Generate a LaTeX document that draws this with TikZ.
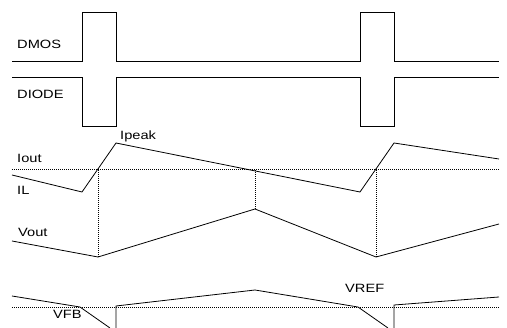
\documentclass[tikz,border=0pt]{standalone}
\usepackage{fontspec}
\setmainfont[FakeStretch=1.22]{Liberation Sans}

\begin{document}
\begin{tikzpicture}[
  x=1pt, y=-1pt,
  wave/.style={line width=0.8pt},
  guide/.style={line width=0.6pt, dash pattern=on 1pt off 1pt},
  lbl/.style={anchor=base west, inner sep=0pt, font=\fontsize{12}{14}\selectfont},
]
\useasboundingbox (0,0) rectangle (507,328);
\clip (0,0) rectangle (507,328);

% switch signals
\draw[wave] (12,61) -- (82,61) -- (82,12) -- (116,12) -- (116,61)
  -- (360,61) -- (360,12) -- (394,12) -- (394,61) -- (499,61);
\draw[wave] (12,77) -- (82,77) -- (82,126) -- (116,126) -- (116,77)
  -- (360,77) -- (360,126) -- (394,126) -- (394,77) -- (499,77);
\node[lbl] (dmos)  at (17,49) {DMOS};
\node[lbl] (diode) at (17,99) {DIODE};

% inductor current
\coordinate (iout-l) at (12,169);
\coordinate (iout-r) at (500,169);
\draw[guide] (iout-l) -- (iout-r);
\draw[wave] (12,175) -- (82,192) -- (116,143) -- (360,192) -- (394,143) -- (499,159);
\node[lbl] (ipeak) at (120,140) {Ipeak};
\node[lbl] (iout)  at (17,163) {Iout};
\node[lbl] (il)    at (17,195) {IL};

% output voltage
\coordinate (vmin-a) at (98,257);
\coordinate (vmax)   at (255,209);
\coordinate (vmin-b) at (376,257);
\draw[wave] (12,241) -- (vmin-a) -- (vmax) -- (vmin-b) -- (499,224);
\draw[guide] (vmin-a) -- (vmin-a |- iout-l);
\draw[guide] (vmax)   -- (vmax |- iout-l);
\draw[guide] (vmin-b) -- (vmin-b |- iout-l);
\node[lbl] (vout) at (18,237) {Vout};

% feedback
\draw[guide] (12,307) -- (500,307);
\draw[wave] (12,296) -- (80,307) -- (110,328);
\draw[wave] (116,328) -- (116,306) -- (255,290) -- (358,307) -- (388,328);
\draw[wave] (394,328) -- (394,305) -- (499,297);
\node[lbl] (vfb)  at (53,319) {VFB};
\node[lbl] (vref) at (345,293) {VREF};
\end{tikzpicture}
\end{document}
